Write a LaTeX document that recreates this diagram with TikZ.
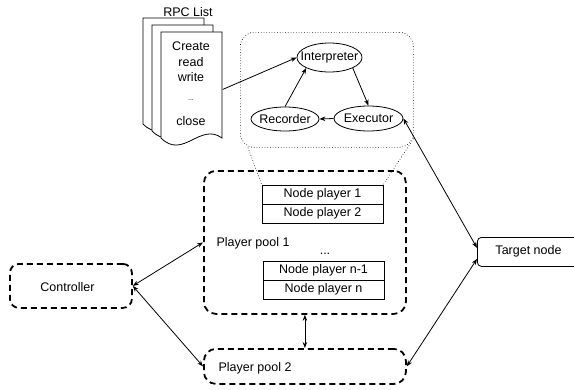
\documentclass[tikz,border=0pt]{standalone}
\usepackage{fontspec}
\setmainfont{Liberation Sans}
\usetikzlibrary{arrows.meta,shapes.geometric,calc}
\begin{document}
\begin{tikzpicture}[x=1pt,y=-1pt,
  font=\fontsize{12.5}{15.5}\selectfont,
  line width=0.8pt,
  arr/.style={-{Stealth[length=6pt,width=4.5pt]}},
  darr/.style={{Stealth[length=6pt,width=4.5pt]}-{Stealth[length=6pt,width=4.5pt]}},
  pool/.style={draw,line width=1.8pt,dash pattern=on 6pt off 4pt,rounded corners=12pt,inner sep=0pt},
  ell/.style={draw,ellipse,inner sep=0pt},
  npbox/.style={draw,minimum width=121pt,minimum height=19pt,inner sep=0pt},
  page/.style={draw,fill=white},
  dotline/.style={line width=0.6pt,dash pattern=on 0.7pt off 2pt}]
\useasboundingbox (0,0) rectangle (574,389);

% RPC list document stack
\node (rpc) at (188,12) {RPC List};
\foreach \dx/\dy in {0/0,9/7,18/14}{
  \begin{scope}[shift={(143+\dx,18+\dy)}]
    \draw[page] (0,0) -- (61,0) -- (61,106) .. controls (39,90) and (22,128) .. (0,106) -- cycle;
  \end{scope}
}
\node[inner sep=0pt,minimum width=61pt,minimum height=106pt,anchor=north west] (doc) at (161,32) {};
\node[align=center,inner sep=0pt] (ops) at (191,62) {Create\\read\\write};
\node[inner sep=0pt,font=\fontsize{7}{8}\selectfont] (odots) at (191,100) {...};
\node[inner sep=0pt] (close) at (191,121) {close};

% zoom region
\node[draw,dotline,rounded corners=14pt,minimum width=173pt,minimum height=115pt,anchor=north west,inner sep=0pt] (zoom) at (240,32) {};
\node[ell,minimum width=65pt,minimum height=29pt] (interp) at (329.5,57.5) {\makebox[0pt]{Interpreter}};
\node[ell,minimum width=68pt,minimum height=24pt] (rec) at (285,119) {\makebox[0pt]{Recorder}};
\node[ell,minimum width=69pt,minimum height=25pt] (exec) at (368.5,118.5) {\makebox[0pt]{Executor}};

\draw[arr] ($(doc.east)+(0,4)$) -- (interp.west);
\draw[arr] (interp.south east) -- (exec.north);
\draw[arr] (exec.west) -- (rec.east);
\draw[arr] (rec.north) -- (interp.south west);

% player pool 1
\node[pool,minimum width=202pt,minimum height=143pt,anchor=north west] (pool1) at (203,170) {};
\node[npbox] (np1) at (322.5,194.5) {Node player 1};
\node[npbox] (np2) at (322.5,213.5) {Node player 2};
\node (pl1) at (253,243) {Player pool 1};
\node[inner sep=0pt] (pdots) at (325,254) {...};
\node[npbox] (npn1) at (323.5,270.5) {Node player n-1};
\node[npbox] (npn) at (323.5,289.5) {Node player n};

\draw[dotline] ($(zoom.south west)+(8,0)$) -- (np1.north west);
\draw[dotline] ($(zoom.south east)+(0,-9)$) -- (np1.north east);

% player pool 2
\node[pool,minimum width=202pt,minimum height=35pt,anchor=north west] (pool2) at (203,348) {};
\node (pl2) at (255,368) {Player pool 2};

% controller
\node[pool,rounded corners=9pt,minimum width=122pt,minimum height=44pt,anchor=north west] (ctrl) at (9,263) {};
\node (ctrltxt) at (67.5,287) {Controller};

% target node
\node[draw,rounded corners=4pt,minimum width=103pt,minimum height=29pt,anchor=north west,inner sep=0pt] (target) at (477,237) {};
\node (targettxt) at (528.5,251.5) {Target node};

% connectors
\draw[darr] (ctrl.east) -- (pool1.west);
\draw[darr] (ctrl.east) -- (pool2.west);
\draw[darr] (pool1.south) -- (pool2.north);
\draw[darr] (exec.east) -- ($(target.west)+(0,-4)$);
\draw[darr] ($(target.west)+(0,7)$) -- (pool2.east);
\end{tikzpicture}
\end{document}
